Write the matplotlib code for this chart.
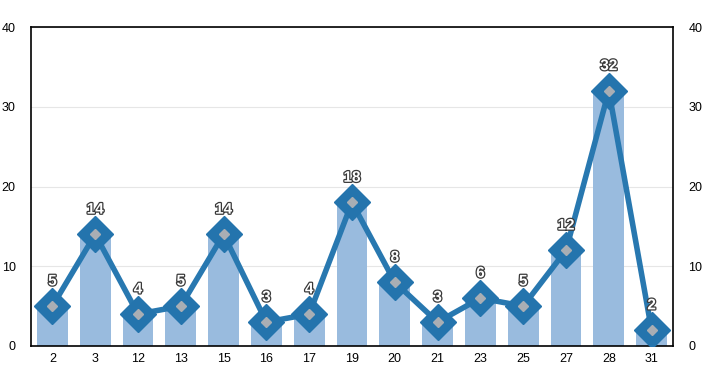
import matplotlib
matplotlib.use("Agg")
import matplotlib.pyplot as plt
import matplotlib.patheffects as pe
import numpy as np

plt.rcParams["font.family"] = ["Liberation Sans", "DejaVu Sans"]

categories = ["2", "3", "12", "13", "15", "16", "17", "19", "20", "21", "23", "25", "27", "28", "31"]
values = [5, 14, 4, 5, 14, 3, 4, 18, 8, 3, 6, 5, 12, 32, 2]
yticks = [0, 10, 20, 30, 40]

fig = plt.figure(figsize=(7.1, 3.75), dpi=100)
ax = fig.add_axes([31/710, 29/375, 642/710, 319/375])
x = np.arange(len(categories))

ax.bar(x, values, width=0.72, color="#99bbde", zorder=2)
ax.plot(x, values, color="#2878b0", lw=4, zorder=3, solid_capstyle="round")
ax.plot(x, values, ls="none", marker="D", ms=18, color="#2474ad", zorder=4)
ax.plot(x, values, ls="none", marker="D", ms=5.5, color="#a9aeb4", zorder=5)

for xi, v in zip(x, values):
    ax.text(xi, v + 3.1, str(v), ha="center", va="center", fontsize=11, fontweight="bold",
            color="white", zorder=6,
            path_effects=[pe.withStroke(linewidth=1.8, foreground="#3a3a3a")])

ax.set_xlim(-0.5, len(categories) - 0.5)
ax.set_ylim(0, 40)
ax.set_yticks(yticks)
ax.set_xticks(x)
ax.set_xticklabels(categories)
ax.tick_params(axis="both", length=0, labelsize=9, pad=5)
ax.tick_params(axis="y", pad=11)
ax.yaxis.grid(True, color="#e6e6e6", lw=0.8, zorder=0)
ax.set_axisbelow(True)
for s in ax.spines.values():
    s.set_color("black")
    s.set_linewidth(1.2)

ax2 = ax.twinx()
ax2.set_ylim(0, 40)
ax2.set_yticks(yticks)
ax2.tick_params(axis="y", length=0, labelsize=9, pad=11)
for s in ax2.spines.values():
    s.set_visible(False)

fig.savefig("out.png", dpi=100)
